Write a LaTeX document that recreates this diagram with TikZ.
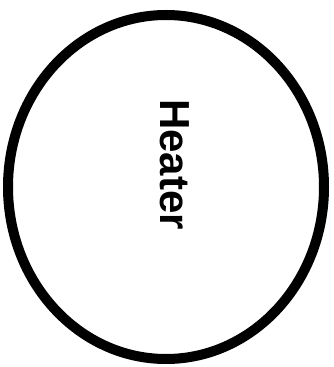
\documentclass[tikz,border=0pt]{standalone}
\usepackage{fontspec}
\setmainfont{Liberation Sans}
\usetikzlibrary{shapes.geometric, positioning}

\tikzset{
    heaterbody/.style={draw=black, ellipse, line width=10pt, inner sep=0pt,
        minimum width=316pt, minimum height=344pt},
    heatertext/.style={rotate=-90, font=\fontsize{42}{42}\selectfont\bfseries, inner sep=0pt}
}

\begin{document}
\begin{tikzpicture}[x=1pt, y=1pt]
    % Page size of the reference
    \useasboundingbox (0,0) rectangle (333,367);

    % Heater outline and its label
    \node[heaterbody] (heater) at (166,180) {};
    \node[heatertext] (heaterlabel) at (175,202.5) {Heater};
\end{tikzpicture}
\end{document}
